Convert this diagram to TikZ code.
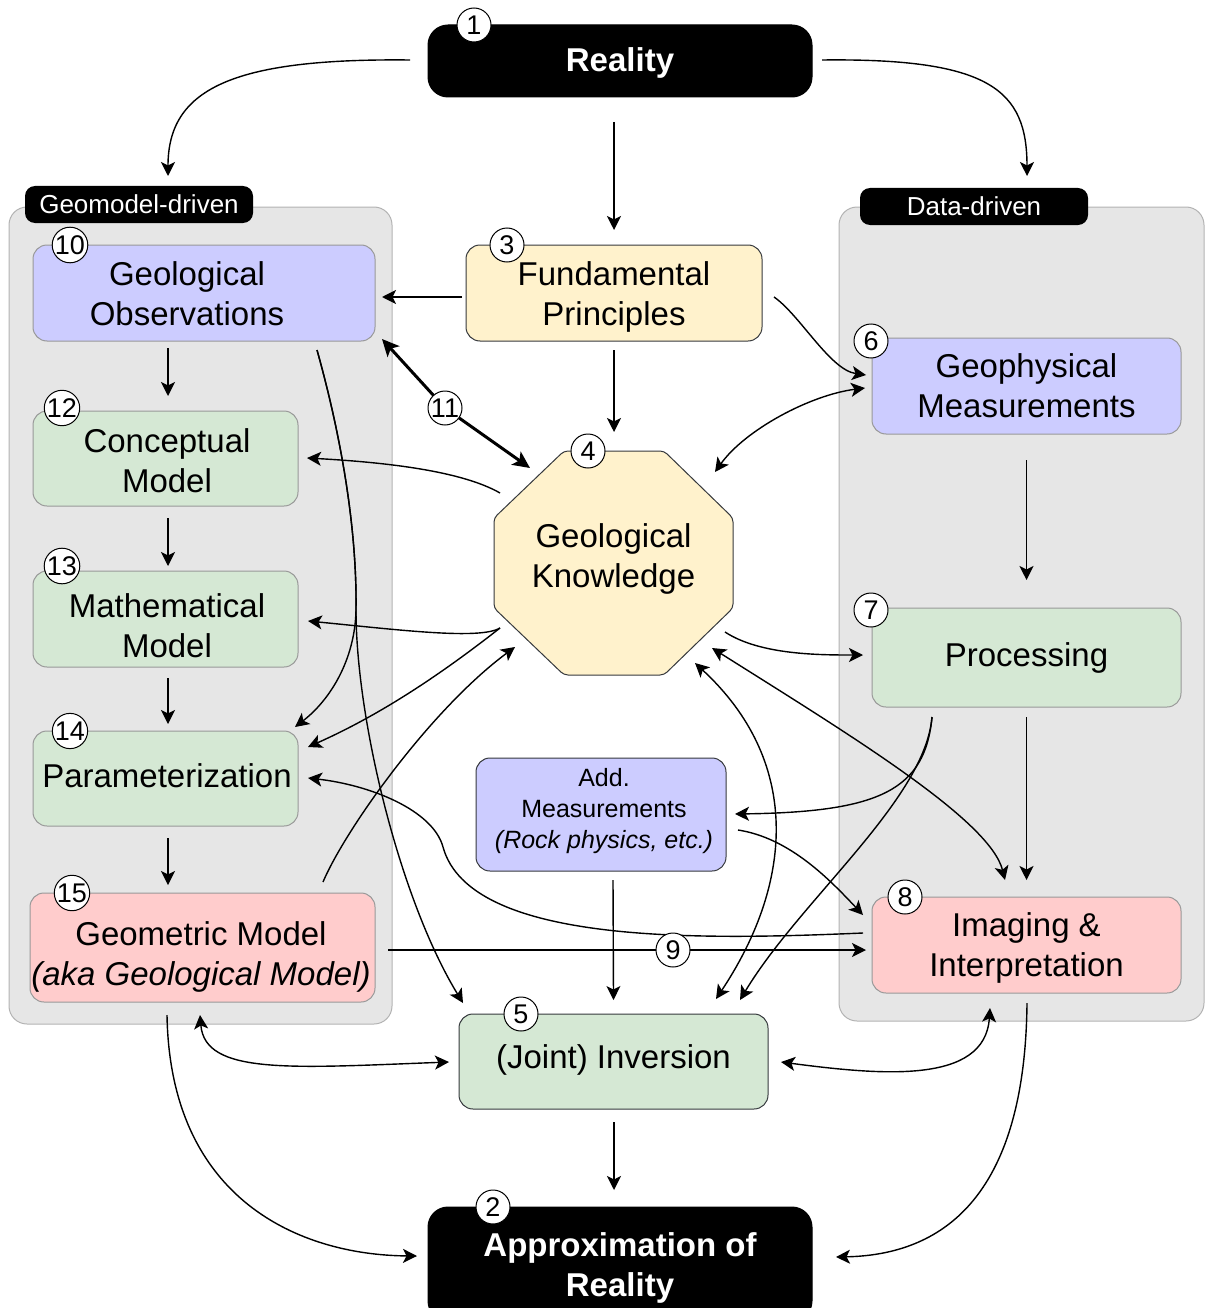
\documentclass[tikz,border=0pt]{standalone}
\usepackage{fontspec}
\setmainfont{Liberation Sans}
\usetikzlibrary{arrows.meta,calc}
\definecolor{cblue}{HTML}{CCCCFF}
\definecolor{cgreen}{HTML}{D5E8D4}
\definecolor{cyellow}{HTML}{FFF2CC}
\definecolor{cred}{HTML}{FFCCCC}
\definecolor{cgroup}{HTML}{E6E6E6}
\definecolor{cgroupline}{HTML}{B3B3B3}
\definecolor{cboxline}{HTML}{999999}
\definecolor{cdark}{HTML}{36393D}
\begin{document}
\begin{tikzpicture}[x=1pt,y=-1pt,
  every node/.style={inner sep=0pt},
  box/.style={draw=cboxline, line width=1pt, rounded corners=14pt, align=center, font=\fontsize{33}{40}\selectfont},
  darkbox/.style={box, draw=cdark},
  lbl/.style={align=center, font=\fontsize{33}{40}\selectfont},
  blackbox/.style={draw=black, fill=black, line width=1pt, rounded corners=20pt},
  wlbl/.style={align=center, text=white, font=\fontsize{33}{40}\selectfont\bfseries},
  grp/.style={draw=cgroupline, fill=cgroup, line width=1pt, rounded corners=18pt},
  glabel/.style={fill=black, rounded corners=10pt, text=white, font=\fontsize{26}{26}\selectfont},
  badge/.style={circle, draw=black, fill=white, line width=1pt, minimum size=34pt, font=\fontsize{27}{27}\selectfont},
  arr/.style={line width=1.4pt, -{Stealth[length=14pt,width=14pt,inset=3.5pt]}},
  darr/.style={line width=1.4pt, {Stealth[length=14pt,width=14pt,inset=3.5pt]}-{Stealth[length=14pt,width=14pt,inset=3.5pt]}},
  tarr/.style={line width=3pt, {Stealth[length=17pt,width=16pt,inset=4pt]}-{Stealth[length=17pt,width=16pt,inset=4pt]}},
]
\useasboundingbox (0,0) rectangle (1205,1308);

% groups
\node[grp, minimum width=383pt, minimum height=817pt] (lgroup) at (200.5,615.5) {};
\node[grp, minimum width=365pt, minimum height=814pt] (rgroup) at (1021.5,614) {};
\node[glabel, minimum width=228pt, minimum height=37pt] (geolabel) at (139,204.5) {Geomodel-driven};
\node[glabel, minimum width=228pt, minimum height=37pt] (datalabel) at (974,206.5) {Data-driven};

% boxes
\node[blackbox, minimum width=384pt, minimum height=72pt] (reality) at (620,61) {};
\node[wlbl] (realityt) at (620,63) {Reality};
\node[blackbox, minimum width=384pt, minimum height=114pt] (approx) at (620,1264) {};
\node[wlbl] (approxt) at (620,1268) {Approximation of\\Reality};
\node[box, fill=cblue, minimum width=342pt, minimum height=96pt] (geoobs) at (204,293) {};
\node[lbl] (geoobst) at (187,294) {Geological\\Observations};
\node[box, fill=cgreen, minimum width=265pt, minimum height=95pt] (concept) at (165.5,458.5) {};
\node[lbl] (conceptt) at (167,460.5) {Conceptual\\Model};
\node[box, fill=cgreen, minimum width=265pt, minimum height=96pt] (math) at (165.5,619) {};
\node[lbl] (matht) at (167,626) {Mathematical\\Model};
\node[box, fill=cgreen, minimum width=265pt, minimum height=95pt] (param) at (165.5,778.5) {};
\node[lbl] (paramt) at (167,775.5) {Parameterization};
\node[box, fill=cred, minimum width=345pt, minimum height=109pt] (geom) at (202.5,947.5) {};
\node[lbl] (geomt) at (201,956.5) {Geometric Model\\\textit{(aka Geological Model)}};
\node[darkbox, fill=cyellow, minimum width=296pt, minimum height=96pt] (fund) at (614,293) {};
\node[lbl] (fundt) at (614,297) {Fundamental\\Principles};
\draw[fill=cyellow, draw=cdark, line width=1pt, rounded corners=4pt]
  (564,451) -- (664,451) -- (733,518) -- (733,608) -- (664,675) -- (564,675) -- (494,608) -- (494,518) -- cycle;
\node[minimum width=239pt, minimum height=224pt] (know) at (613.5,563) {};
\node[lbl] (knowt) at (613.5,559) {Geological\\Knowledge};
\node[box, fill=cblue, minimum width=309pt, minimum height=96pt] (geophys) at (1026.5,386) {Geophysical\\Measurements};
\node[box, fill=cgreen, minimum width=309pt, minimum height=99pt] (proc) at (1026.5,657.5) {Processing};
\node[box, fill=cred, minimum width=309pt, minimum height=96pt] (imag) at (1026.5,945) {};
\node[lbl] (imagt) at (1026.5,948) {Imaging \&\\Interpretation};
\node[darkbox, fill=cblue, minimum width=250pt, minimum height=113pt] (addm) at (601,814.5) {};
\node[lbl, font=\fontsize{25}{31}\selectfont] (addmt) at (604,811.5) {Add.\\Measurements\\\textit{(Rock physics, etc.)}};
\node[darkbox, fill=cgreen, minimum width=309pt, minimum height=95pt] (inv) at (613.5,1061.5) {};
\node[lbl] (invt) at (613.5,1059.5) {(Joint) Inversion};

\coordinate (c11) at (445,408);
\coordinate (c9) at (673,950);

% connectors
\draw[arr] ($(reality)+(-210,-1)$) .. controls (230,58) and (168,90) .. ($(geolabel)+(29,-28.5)$);
\draw[arr] ($(reality)+(202,-1)$) .. controls (990,58) and (1027,90) .. ($(datalabel)+(53,-30.5)$);
\draw[arr] ($(reality)+(-6,61)$) -- ($(fund)+(0,-63)$);
\draw[arr] ($(fund)+(-152,4)$) -- ($(geoobs)+(178,4)$);
\draw[arr] ($(fund)+(0,57)$) -- ($(know)+(0.5,-131)$);
\draw[arr] ($(fund)+(160,4)$) .. controls (800,315) and (830,370) .. ($(geophys)+(-160.5,-11)$);
\draw[darr] ($(know)+(101.5,-91)$) .. controls (745,430) and (810,395) .. ($(geophys)+(-161.5,2)$);
\draw[tarr] ($(geoobs)+(178,46)$) -- (c11) -- ($(know)+(-83.5,-95)$);
\draw[arr] ($(know)+(-113.5,-70)$) .. controls (460,470) and (380,462) .. ($(concept)+(141.5,-0.5)$);
\draw[arr] ($(know)+(-113.5,65)$) .. controls (480,640) and (400,630) .. ($(math)+(142.5,2)$);
\draw[arr] ($(know)+(-113.5,65)$) .. controls (440,675) and (380,715) .. ($(param)+(142.5,-31.5)$);
\draw[arr] ($(geom)+(120.5,-65.5)$) .. controls (345,830) and (430,710) .. ($(know)+(-98.5,84)$);
\draw[arr] ($(geoobs)+(113,57)$) .. controls (345,450) and (357,540) .. (356,610) .. controls (355,660) and (330,700) .. ($(param)+(129.5,-51.5)$);
\draw[arr] ($(geoobs)+(113,57)$) .. controls (345,450) and (357,540) .. (356,610) .. controls (356,720) and (400,900) .. ($(inv)+(-150.5,-58.5)$);
\draw[arr] ($(geom)+(185.5,2.5)$) -- (c9) -- ($(imag)+(-160.5,5)$);
\draw[arr] ($(imag)+(-163.5,-12)$) .. controls (700,940) and (470,945) .. (443,847) .. controls (433,810) and (370,785) .. ($(param)+(142.5,-0.5)$);
\draw[arr] ($(proc)+(-94.5,59.5)$) .. controls (925,790) and (880,812) .. ($(addm)+(134,-0.5)$);
\draw[arr] ($(proc)+(-94.5,59.5)$) .. controls (925,800) and (800,900) .. ($(inv)+(126.5,-61.5)$);
\draw[darr] ($(know)+(81.5,100)$) .. controls (800,760) and (795,880) .. ($(inv)+(102.5,-62.5)$);
\draw[arr] ($(know)+(111.5,69)$) .. controls (760,655) and (820,655) .. ($(proc)+(-163.5,-2.5)$);
\draw[darr] ($(know)+(98.5,85)$) .. controls (850,735) and (990,820) .. ($(imag)+(-21.5,-65)$);
\draw[arr] ($(addm)+(137,15.5)$) .. controls (790,838) and (830,880) .. ($(imag)+(-163.5,-30)$);
\draw[arr] ($(addm)+(12,65.5)$) -- ($(inv)+(0,-61.5)$);
\draw[arr] ($(geophys)+(0,74)$) -- ($(proc)+(0,-77.5)$);
\draw[arr] ($(proc)+(0,59.5)$) -- ($(imag)+(0,-65)$);
\draw[arr] ($(geoobs)+(-36,55)$) -- ($(concept)+(2.5,-62.5)$);
\draw[arr] ($(concept)+(2.5,59.5)$) -- ($(math)+(2.5,-53)$);
\draw[arr] ($(math)+(2.5,59)$) -- ($(param)+(2.5,-54.5)$);
\draw[arr] ($(param)+(2.5,59.5)$) -- ($(geom)+(-34.5,-62.5)$);
\draw[arr] ($(geom)+(-35.5,67.5)$) .. controls (170,1200) and (300,1255) .. ($(approx)+(-203,-8)$);
\draw[darr] ($(geom)+(-2.5,67.5)$) .. controls (205,1075) and (290,1068) .. ($(inv)+(-164.5,0.5)$);
\draw[darr] ($(imag)+(-36.5,63)$) .. controls (985,1085) and (880,1075) .. ($(inv)+(167.5,0.5)$);
\draw[arr] ($(imag)+(0.5,58)$) .. controls (1025,1200) and (940,1255) .. ($(approx)+(216,-7)$);
\draw[arr] ($(inv)+(0.5,60.5)$) -- ($(approx)+(-6,-74)$);

% badges
\node[badge] (b1) at (474,25) {1};
\node[badge] (b2) at (493,1207) {2};
\node[badge] (b3) at (507,245) {3};
\node[badge] (b4) at (588,451) {4};
\node[badge] (b5) at (521,1014) {5};
\node[badge] (b6) at (871,341) {6};
\node[badge] (b7) at (871,610) {7};
\node[badge] (b8) at (905,897) {8};
\node[badge] (b9) at (c9) {9};
\node[badge] (b10) at (70,245) {10};
\node[badge] (b11) at (c11) {11};
\node[badge] (b12) at (62,408) {12};
\node[badge] (b13) at (62,566) {13};
\node[badge] (b14) at (70,731) {14};
\node[badge] (b15) at (72,893) {15};
\end{tikzpicture}
\end{document}
